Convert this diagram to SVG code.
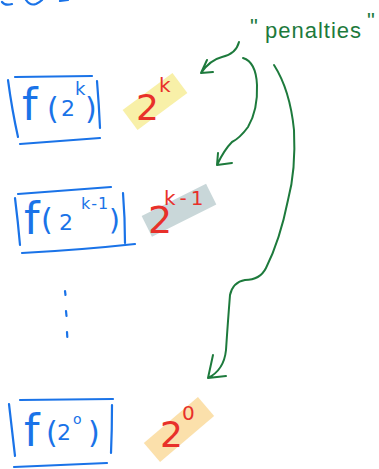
<svg xmlns="http://www.w3.org/2000/svg" width="379" height="469" viewBox="0 0 379 469">
<style>
.b{stroke:#1a73e8;stroke-width:2.2;fill:none;stroke-linecap:round;stroke-linejoin:round}
.g{stroke:#1d7a3c;stroke-width:2;fill:none;stroke-linecap:round;stroke-linejoin:round}
.bt{fill:#1a73e8;font-family:"DejaVu Sans",sans-serif}
.rt{fill:#e8302a;font-family:"DejaVu Sans",sans-serif}
.gt{fill:#1d7a3c;font-family:"Liberation Sans",sans-serif}
</style>
<rect width="379" height="469" fill="#ffffff"/>
<g id="fragment">
<path class="b" d="M2 2 Q5 6 12 4 M26 0 Q30 6 36 4 Q40 2 42 0 M60 1 L68 0"/>
</g>
<g id="node1">
<path class="b" d="M8 80 Q12 110 18 137 M15 77 L92 76 M97 81 Q99 105 100 128 M20 144 L100 138"/>
<text class="bt" font-size="44" x="22" y="120">f<tspan x="47" y="119" font-size="30">(</tspan><tspan x="61" y="116" font-size="22">2</tspan><tspan x="75" y="95" font-size="18">k</tspan><tspan x="85" y="119" font-size="30">)</tspan></text>
</g>
<g id="hl1">
<rect x="124" y="89" width="62" height="25" fill="#f8f0a8" transform="rotate(-36.5 155 101.5)"/>
<text class="rt" font-size="36" x="136" y="120">2<tspan x="159" y="92" font-size="20">k</tspan></text>
</g>
<g id="node2">
<path class="b" d="M15 198 Q18 222 20 245 M18 194 L111 187 M123 193 Q125 218 125 243 M22 253 Q80 250 135 244"/>
<text class="bt" font-size="44" x="24" y="234">f<tspan x="41" y="230" font-size="30">(</tspan><tspan x="59" y="230" font-size="22">2</tspan><tspan x="81" y="209" font-size="16" letter-spacing="1">k-1</tspan><tspan x="109" y="230" font-size="28">)</tspan></text>
</g>
<g id="hl2">
<rect x="143" y="198.75" width="72" height="23" fill="#c9d7d9" transform="rotate(-26.6 179 210.25)"/>
<text class="rt" font-size="38" x="148" y="233">2<tspan x="164" y="205" font-size="20" letter-spacing="4">k-1</tspan></text>
</g>
<g id="dots">
<path class="b" d="M65 291 L65.5 295 M66 311 L66.5 316 M67 332 L67.3 337"/>
</g>
<g id="node3">
<path class="b" d="M9 404 Q12 430 15 456 M20 400 L113 399 M112 405 Q112 430 111 453 M14 467 L107 463"/>
<text class="bt" font-size="44" x="24" y="446">f<tspan x="46" y="443" font-size="30">(</tspan><tspan x="57" y="440" font-size="22">2</tspan><tspan x="73" y="424" font-size="14">o</tspan><tspan x="88" y="443" font-size="30">)</tspan></text>
</g>
<g id="hl3">
<rect x="143.5" y="417" width="71" height="25" fill="#fbe0ab" transform="rotate(-40.4 179 429.5)"/>
<text class="rt" font-size="36" x="160" y="447">2<tspan x="182" y="420" font-size="20">0</tspan></text>
</g>
<g id="label">
<text class="gt" font-size="22" x="250" y="34">"<tspan x="265" y="38" letter-spacing="1">penalties</tspan><tspan x="367" y="28">"</tspan></text>
</g>
<g id="connectors">
<path class="g" d="M239 42 Q236 54 222 57 Q210 60 201 73 M207 60 L201 73 L213 72"/>
<path class="g" d="M243 58 Q256 62 257 85 Q258 110 248 127 Q240 138 232 142 Q224 150 217 165 M218 153 L217 165 L232 163"/>
<path class="g" d="M274 65 Q290 90 294 130 Q296 170 288 200 Q280 240 266 268 Q260 280 245 280 Q233 282 230 295 Q228 320 226 350 Q224 370 208 378 M213 355 L208 378 L226 376"/>
</g>
</svg>
